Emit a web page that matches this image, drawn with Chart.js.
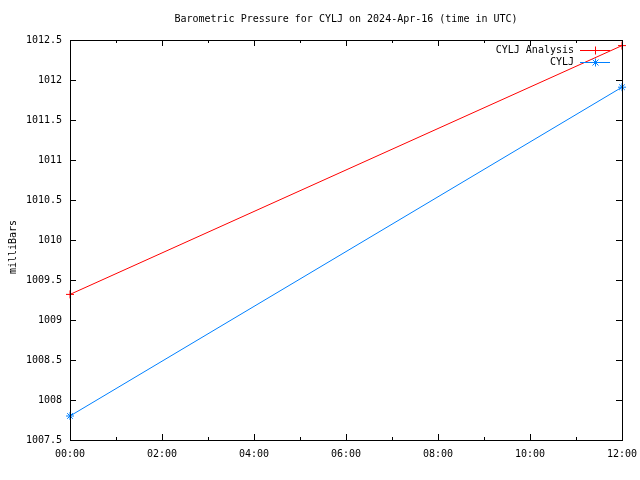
<!DOCTYPE html>
<html>
<head>
<meta charset="utf-8">
<script src="https://cdn.jsdelivr.net/npm/chart.js@4"></script>
<style>
html,body{margin:0;padding:0;background:#fff;}
#wrap{width:640px;height:480px;position:relative;}
</style>
</head>
<body>
<div id="wrap"><canvas id="c" width="640" height="480"></canvas></div>
<script>
const hours = [0, 12];
const analysisValues = [1009.32, 1012.43];
const observedValues = [1007.8, 1011.91];
const xTickLabels = ['00:00','01:00','02:00','03:00','04:00','05:00','06:00','07:00','08:00','09:00','10:00','11:00','12:00'];
const yTicks = [1007.5, 1008, 1008.5, 1009, 1009.5, 1010, 1010.5, 1011, 1011.5, 1012, 1012.5];
const seriesNames = ['CYLJ Analysis', 'CYLJ'];
const titleText = 'Barometric Pressure for CYLJ on 2024-Apr-16 (time in UTC)';
const yLabelText = 'milliBars';

const FONT = '10px "DejaVu Sans Mono", "Liberation Mono", monospace';
const RED = '#ff0000';
const BLUE = 'rgb(0,128,255)';

const gnuplotDecor = {
  id: 'gnuplotDecor',
  afterDatasetsDraw(chart) {
    const ctx = chart.ctx;
    const a = chart.chartArea;
    const xs = chart.scales.x, ys = chart.scales.y;
    ctx.save();
    ctx.strokeStyle = '#000';
    ctx.lineWidth = 1;
    ctx.strokeRect(Math.round(a.left) + 0.5, Math.round(a.top) + 0.5, Math.round(a.right - a.left), Math.round(a.bottom - a.top));
    ctx.beginPath();
    xs.ticks.forEach(t => {
      const px = Math.round(xs.getPixelForValue(t.value)) + 0.5;
      const len = (t.value % 2 === 0) ? 6 : 3;
      ctx.moveTo(px, a.bottom); ctx.lineTo(px, a.bottom - len);
      ctx.moveTo(px, a.top); ctx.lineTo(px, a.top + len);
    });
    ys.ticks.forEach(t => {
      const py = Math.round(ys.getPixelForValue(t.value)) + 0.5;
      ctx.moveTo(a.left, py); ctx.lineTo(a.left + 6, py);
      ctx.moveTo(a.right, py); ctx.lineTo(a.right - 6, py);
    });
    ctx.stroke();
    ctx.fillStyle = '#000';
    ctx.font = FONT;
    ctx.textAlign = 'center';
    ctx.textBaseline = 'middle';
    ctx.fillText(titleText, (a.left + a.right) / 2, 19);
    ctx.save();
    ctx.translate(13, 247);
    ctx.rotate(-Math.PI / 2);
    ctx.fillText(yLabelText, 0, 0);
    ctx.restore();
    const ds = chart.data.datasets;
    const rows = [50, 62];
    ds.forEach((d, i) => {
      const y = rows[i];
      ctx.textAlign = 'right';
      ctx.fillStyle = '#000';
      ctx.fillText(d.label, 574, y);
      ctx.strokeStyle = d.borderColor;
      ctx.beginPath();
      ctx.moveTo(580, y + 0.5); ctx.lineTo(610, y + 0.5);
      ctx.stroke();
      ctx.beginPath();
      const cx = 595.5, cy = y + 0.5, r = 4;
      ctx.moveTo(cx - r, cy); ctx.lineTo(cx + r, cy);
      ctx.moveTo(cx, cy - r); ctx.lineTo(cx, cy + r);
      if (d.pointStyle === 'star') {
        const q = r * 0.75;
        ctx.moveTo(cx - q, cy - q); ctx.lineTo(cx + q, cy + q);
        ctx.moveTo(cx - q, cy + q); ctx.lineTo(cx + q, cy - q);
      }
      ctx.stroke();
    });
    ctx.restore();
  }
};

new Chart(document.getElementById('c'), {
  type: 'line',
  data: {
    datasets: [
      {
        label: seriesNames[0],
        data: hours.map((h, i) => ({x: h, y: analysisValues[i]})),
        borderColor: RED, backgroundColor: RED,
        borderWidth: 1, pointStyle: 'cross', pointRadius: 4, pointBorderWidth: 1,
        tension: 0, clip: false
      },
      {
        label: seriesNames[1],
        data: hours.map((h, i) => ({x: h, y: observedValues[i]})),
        borderColor: BLUE, backgroundColor: BLUE,
        borderWidth: 1, pointStyle: 'star', pointRadius: 4, pointBorderWidth: 1,
        tension: 0, clip: false
      }
    ]
  },
  options: {
    responsive: false,
    animation: false,
    devicePixelRatio: 1,
    layout: { padding: { top: 40, right: 18, left: 0, bottom: 0 } },
    plugins: { legend: { display: false }, title: { display: false }, tooltip: { enabled: false } },
    scales: {
      x: {
        type: 'linear', min: 0, max: 12,
        grid: { display: false, drawTicks: false },
        border: { display: false },
        afterFit(s) { s.height = 40; s.paddingLeft = 0; s.paddingRight = 0; },
        afterBuildTicks(s) { s.ticks = xTickLabels.map((l, i) => ({value: i})); },
        ticks: {
          autoSkip: false, maxRotation: 0, padding: 8, color: '#000',
          font: { family: '"DejaVu Sans Mono", monospace', size: 10 },
          callback: (v) => (v % 2 === 0 ? xTickLabels[v] : '')
        }
      },
      y: {
        type: 'linear', min: 1007.5, max: 1012.5,
        grid: { display: false, drawTicks: false },
        border: { display: false },
        afterFit(s) { s.width = 70; s.paddingTop = 0; s.paddingBottom = 0; },
        afterBuildTicks(s) { s.ticks = yTicks.map(v => ({value: v})); },
        ticks: {
          autoSkip: false, padding: 8, color: '#000',
          font: { family: '"DejaVu Sans Mono", monospace', size: 10 },
          callback: (v) => String(Number(v.toFixed(1)))
        }
      }
    }
  },
  plugins: [gnuplotDecor]
});
</script>
</body>
</html>
